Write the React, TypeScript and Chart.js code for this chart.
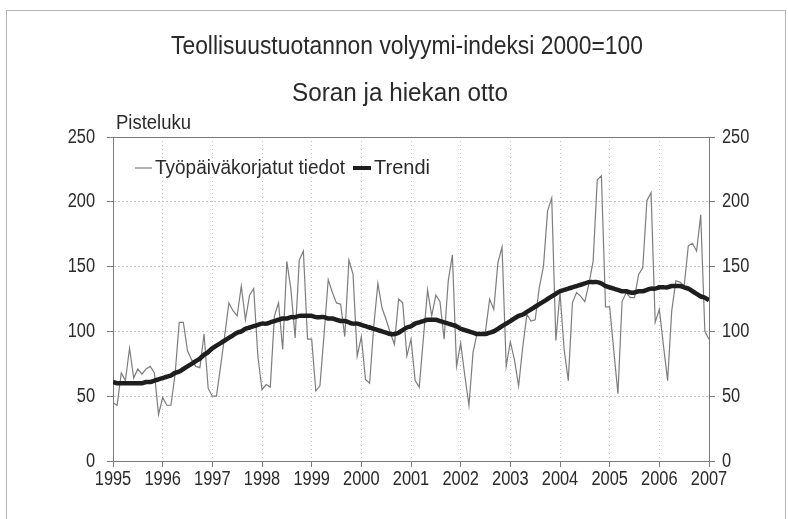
import React, { useEffect, useRef } from 'react';
import { Chart, registerables } from 'chart.js';

Chart.register(...registerables);

// ---- data (monthly, Jan 1995 .. Jan 2007) ----
const START_YEAR = 1995;
const END_YEAR = 2007;
const yearTicks = [1995, 1996, 1997, 1998, 1999, 2000, 2001, 2002, 2003, 2004, 2005, 2006, 2007];
const yTicks = [0, 50, 100, 150, 200, 250];

const adjusted = [
  45, 43, 68, 62, 87, 64, 71, 67, 71, 73, 68, 36,
  49, 43, 43, 67, 107, 107, 85, 78, 73, 72, 98, 56,
  50, 50, 73, 97, 122, 116, 112, 135, 109, 128, 133, 81,
  55, 59, 57, 112, 122, 86, 154, 132, 95, 155, 162, 94,
  94, 54, 58, 98, 140, 130, 122, 121, 96, 155, 144, 81,
  96, 63, 60, 104, 137, 118, 109, 99, 90, 125, 122, 81,
  94, 62, 57, 95, 132, 112, 128, 123, 94, 139, 159, 73,
  91, 66, 43, 84, 99, 98, 100, 125, 117, 153, 165, 73,
  92, 78, 58, 88, 113, 108, 109, 134, 150, 193, 203, 93,
  130, 86, 62, 122, 130, 127, 123, 137, 154, 217, 220, 119,
  119, 85, 52, 123, 130, 126, 126, 144, 149, 201, 207, 107,
  117, 89, 62, 116, 139, 138, 135, 166, 168, 162, 190, 100,
  94,
];

const trend = [
  61, 60, 60, 60, 60, 60, 60, 60, 61, 61, 62, 63,
  64, 65, 66, 68, 69, 71, 73, 75, 77, 79, 82, 84,
  87, 89, 91, 93, 95, 97, 99, 100, 102, 103, 104, 105,
  106, 106, 107, 108, 109, 110, 110, 111, 111, 112, 112, 112,
  112, 111, 111, 111, 110, 110, 109, 108, 108, 107, 106, 106,
  105, 104, 103, 102, 101, 100, 99, 98, 98, 99, 101, 103,
  104, 106, 107, 108, 109, 109, 109, 108, 107, 106, 105, 104,
  102, 101, 100, 99, 98, 98, 98, 99, 100, 102, 104, 106,
  108, 110, 112, 113, 115, 117, 119, 121, 123, 125, 127, 129,
  131, 132, 133, 134, 135, 136, 137, 138, 138, 138, 137, 135,
  134, 133, 132, 131, 131, 130, 130, 131, 131, 132, 133, 133,
  134, 134, 134, 135, 135, 135, 134, 133, 131, 129, 127, 126,
  124,
];

const TITLE = 'Teollisuustuotannon volyymi-indeksi 2000=100';
const SUBTITLE = 'Soran ja hiekan otto';
const Y_LABEL = 'Pisteluku';
const LEGEND_ADJ = 'Työpäiväkorjatut tiedot';
const LEGEND_TREND = 'Trendi';

const FONT = '"Liberation Sans", Arial, sans-serif';
const TEXT = '#2a2a2a';
const AXIS = '#7a7a7a';
const GRID = '#c4c4c4';
const THIN = '#7d7d7d';
const THICK = '#1e1e1e';
const NARROW = 0.82;

const toPoints = (arr: number[]) => arr.map((v, i) => ({ x: START_YEAR + i / 12, y: v }));

function drawText(
  ctx: CanvasRenderingContext2D,
  text: string,
  x: number,
  y: number,
  size: number,
  align: CanvasTextAlign,
  opts: { width?: number; sx?: number } = {}
) {
  ctx.save();
  ctx.font = `${size}px ${FONT}`;
  ctx.textAlign = align;
  ctx.textBaseline = 'middle';
  let sx = opts.sx ?? NARROW;
  if (opts.width) sx = opts.width / ctx.measureText(text).width;
  ctx.translate(x, y);
  ctx.scale(sx, 1);
  ctx.fillText(text, 0, 0);
  ctx.restore();
}

const overlay = {
  id: 'overlay',
  beforeDraw(chart: any) {
    const { ctx, width, height } = chart;
    ctx.save();
    ctx.fillStyle = '#ffffff';
    ctx.fillRect(0, 0, width, height);
    ctx.strokeStyle = '#b4b4b4';
    ctx.lineWidth = 1;
    ctx.strokeRect(6.5, 10.5, 779, 540);
    ctx.restore();
  },
  afterDraw(chart: any) {
    const { ctx, chartArea, scales } = chart;
    ctx.save();
    // top border of plot
    ctx.strokeStyle = AXIS;
    ctx.lineWidth = 1;
    ctx.beginPath();
    ctx.moveTo(chartArea.left, Math.round(chartArea.top) + 0.5);
    ctx.lineTo(chartArea.right, Math.round(chartArea.top) + 0.5);
    ctx.stroke();

    ctx.fillStyle = TEXT;
    drawText(ctx, TITLE, 407, 47, 26, 'center', { width: 472 });
    drawText(ctx, SUBTITLE, 400, 94, 26, 'center', { width: 216 });
    drawText(ctx, Y_LABEL, 116, 123, 20, 'left', { width: 75 });

    // tick labels
    const xs = scales.x;
    yearTicks.forEach((v) => {
      drawText(ctx, String(v), xs.getPixelForValue(v), 479, 20, 'center');
    });
    const ys = scales.y;
    yTicks.forEach((v) => {
      const py = ys.getPixelForValue(v);
      drawText(ctx, String(v), 95, py, 20, 'right');
      drawText(ctx, String(v), 722, py, 20, 'left');
    });

    // legend inside plot
    const ly = 168;
    ctx.strokeStyle = THIN;
    ctx.lineWidth = 1.2;
    ctx.beginPath();
    ctx.moveTo(135, ly);
    ctx.lineTo(152, ly);
    ctx.stroke();
    drawText(ctx, LEGEND_ADJ, 155, ly, 21, 'left', { width: 190 });
    ctx.strokeStyle = THICK;
    ctx.lineWidth = 4;
    ctx.beginPath();
    ctx.moveTo(353, ly);
    ctx.lineTo(371, ly);
    ctx.stroke();
    drawText(ctx, LEGEND_TREND, 374, ly, 21, 'left', { width: 56 });
    ctx.restore();
  },
};

export default function App() {
  const ref = useRef<HTMLCanvasElement | null>(null);

  useEffect(() => {
    document.body.style.margin = '0';
    if (!ref.current) return;
    const chart = new Chart(ref.current, {
      type: 'line',
      data: {
        datasets: [
          {
            label: LEGEND_TREND,
            data: toPoints(trend),
            borderColor: THICK,
            borderWidth: 4.5,
            pointRadius: 0,
            tension: 0.3,
            order: 0,
          },
          {
            label: LEGEND_ADJ,
            data: toPoints(adjusted),
            borderColor: THIN,
            borderWidth: 1.2,
            pointRadius: 0,
            tension: 0,
            order: 1,
          },
        ],
      },
      options: {
        responsive: false,
        animation: false,
        events: [],
        layout: { padding: { top: 137, left: 0, right: 0, bottom: 0 } },
        plugins: {
          legend: { display: false },
          title: { display: false },
          tooltip: { enabled: false },
        },
        scales: {
          x: {
            type: 'linear',
            min: START_YEAR,
            max: END_YEAR,
            afterBuildTicks: (s: any) => {
              s.ticks = yearTicks.map((v) => ({ value: v }));
            },
            afterFit: (s: any) => {
              s.height = 58;
            },
            ticks: { display: false, autoSkip: false, maxRotation: 0 },
            grid: {
              color: (c: any) =>
                c.tick && (c.tick.value === START_YEAR || c.tick.value === END_YEAR) ? 'rgba(0,0,0,0)' : GRID,
              lineWidth: 1,
              tickColor: AXIS,
              tickLength: 6,
              drawTicks: true,
            },
            border: { display: true, color: AXIS, width: 1, dash: [1, 3] },
          },
          y: {
            position: 'left',
            min: 0,
            max: 250,
            afterBuildTicks: (s: any) => {
              s.ticks = yTicks.map((v) => ({ value: v }));
            },
            afterFit: (s: any) => {
              s.width = 113;
            },
            ticks: { display: false },
            grid: {
              color: (c: any) =>
                c.tick && (c.tick.value === 0 || c.tick.value === 250) ? 'rgba(0,0,0,0)' : GRID,
              lineWidth: 1,
              tickColor: AXIS,
              tickLength: 6,
            },
            border: { display: true, color: AXIS, width: 1, dash: [2, 2] },
          },
          y2: {
            position: 'right',
            min: 0,
            max: 250,
            afterBuildTicks: (s: any) => {
              s.ticks = yTicks.map((v) => ({ value: v }));
            },
            afterFit: (s: any) => {
              s.width = 79;
            },
            ticks: { display: false },
            grid: {
              drawOnChartArea: false,
              tickColor: AXIS,
              tickLength: 6,
            },
            border: { display: true, color: AXIS, width: 1 },
          },
        },
      },
      plugins: [overlay],
    } as any);
    return () => chart.destroy();
  }, []);

  return (
    <div style={{ position: 'relative', width: 788, height: 519 }}>
      <canvas ref={ref} width={788} height={519} />
    </div>
  );
}
